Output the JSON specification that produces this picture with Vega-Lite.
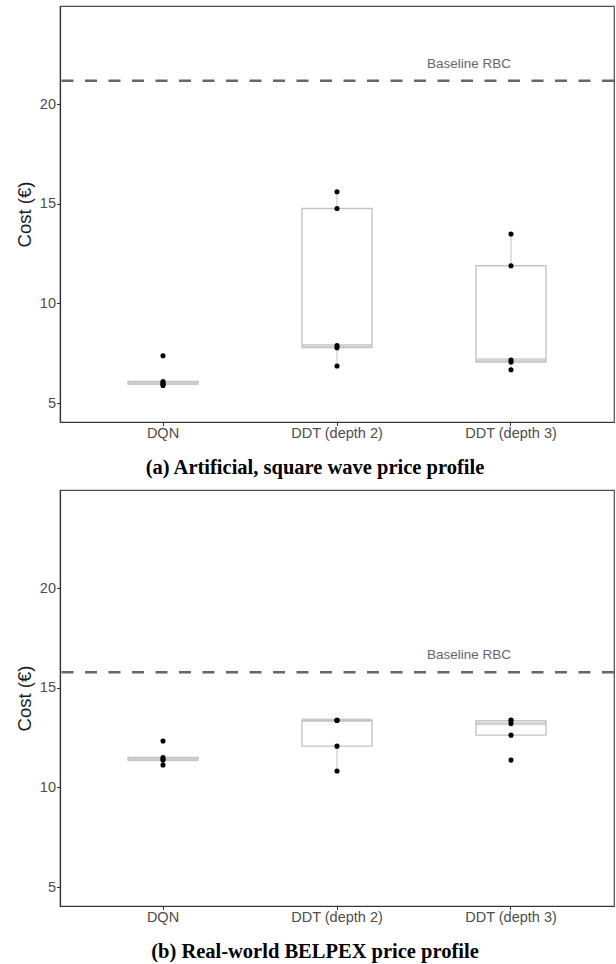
{
  "$schema": "https://vega.github.io/schema/vega-lite/v6.json",
  "padding": {"top": 5, "left": 14, "right": 0, "bottom": 0},
  "background": "white",
  "spacing": 9,
  "datasets": {
    "a": [
      {"method": "DQN", "cost": 7.37},
      {"method": "DQN", "cost": 6.08},
      {"method": "DQN", "cost": 6.0},
      {"method": "DQN", "cost": 5.95},
      {"method": "DQN", "cost": 5.88},
      {"method": "DDT (depth 2)", "cost": 15.6},
      {"method": "DDT (depth 2)", "cost": 14.76},
      {"method": "DDT (depth 2)", "cost": 7.88},
      {"method": "DDT (depth 2)", "cost": 7.78},
      {"method": "DDT (depth 2)", "cost": 6.86},
      {"method": "DDT (depth 3)", "cost": 13.48},
      {"method": "DDT (depth 3)", "cost": 11.89},
      {"method": "DDT (depth 3)", "cost": 7.16},
      {"method": "DDT (depth 3)", "cost": 7.06},
      {"method": "DDT (depth 3)", "cost": 6.67}
    ],
    "b": [
      {"method": "DQN", "cost": 12.33},
      {"method": "DQN", "cost": 11.5},
      {"method": "DQN", "cost": 11.4},
      {"method": "DQN", "cost": 11.37},
      {"method": "DQN", "cost": 11.12},
      {"method": "DDT (depth 2)", "cost": 13.37},
      {"method": "DDT (depth 2)", "cost": 13.37},
      {"method": "DDT (depth 2)", "cost": 13.37},
      {"method": "DDT (depth 2)", "cost": 12.07},
      {"method": "DDT (depth 2)", "cost": 10.82},
      {"method": "DDT (depth 3)", "cost": 13.38},
      {"method": "DDT (depth 3)", "cost": 13.35},
      {"method": "DDT (depth 3)", "cost": 13.2},
      {"method": "DDT (depth 3)", "cost": 12.62},
      {"method": "DDT (depth 3)", "cost": 11.37}
    ],
    "baseA": [{"method": "DDT (depth 3)", "cost": 21.17, "label": "Baseline RBC"}],
    "baseB": [{"method": "DDT (depth 3)", "cost": 15.78, "label": "Baseline RBC"}]
  },
  "config": {
    "font": "Liberation Sans",
    "view": {"stroke": "#4d4d4d", "strokeWidth": 1.2},
    "axis": {
      "grid": false,
      "domainColor": "#333333",
      "domainWidth": 1.2,
      "tickColor": "#333333",
      "tickSize": 3.5,
      "labelColor": "#4d4d4d",
      "labelFont": "Liberation Sans",
      "labelFontSize": 14.5,
      "titleFont": "Liberation Sans",
      "titleFontSize": 18.5,
      "titleFontWeight": "normal",
      "titleColor": "#1a1a1a"
    },
    "title": {"font": "Liberation Serif", "fontSize": 20.5, "fontWeight": "bold", "color": "#000000"}
  },
  "vconcat": [
    {
      "width": 554,
      "height": 416,
      "title": {"text": "(a) Artificial, square wave price profile", "orient": "bottom", "frame": "group", "anchor": "middle", "offset": 18, "dx": -22},
      "encoding": {
        "x": {"field": "method", "type": "nominal", "sort": ["DQN", "DDT (depth 2)", "DDT (depth 3)"],
              "scale": {"paddingInner": 0, "paddingOuter": 0.092},
              "axis": {"title": null, "labelAngle": 0, "labelPadding": 1}},
        "y": {"field": "cost", "type": "quantitative",
              "scale": {"domain": [4.05, 24.92], "nice": false, "zero": false},
              "axis": {"title": "Cost (€)", "values": [5, 10, 15, 20], "labelPadding": 1, "titlePadding": 5}}
      },
      "layer": [
        {
          "data": {"name": "a"},
          "mark": {"type": "boxplot", "extent": 1.5, "size": 70, "outliers": false, "ticks": false,
                   "box": {"color": "white", "stroke": "#c4c4c4", "strokeWidth": 1.4},
                   "median": {"color": "#c0c0c0", "thickness": 3.5},
                   "rule": {"color": "#c4c4c4", "strokeWidth": 1}}
        },
        {
          "data": {"name": "a"},
          "mark": {"type": "circle", "size": 26, "color": "black", "opacity": 1}
        },
        {
          "data": {"name": "baseA"},
          "mark": {"type": "rule", "strokeDash": [12, 11.5], "strokeWidth": 2.5, "color": "#666666"},
          "encoding": {"x": null}
        },
        {
          "data": {"name": "baseA"},
          "mark": {"type": "text", "dx": -42, "dy": -17, "fontSize": 13.5, "color": "#666666", "font": "Liberation Sans"},
          "encoding": {"text": {"field": "label"}}
        }
      ]
    },
    {
      "width": 554,
      "height": 416,
      "title": {"text": "(b) Real-world BELPEX price profile", "orient": "bottom", "frame": "group", "anchor": "middle", "offset": 18, "dx": -22},
      "encoding": {
        "x": {"field": "method", "type": "nominal", "sort": ["DQN", "DDT (depth 2)", "DDT (depth 3)"],
              "scale": {"paddingInner": 0, "paddingOuter": 0.092},
              "axis": {"title": null, "labelAngle": 0, "labelPadding": 1}},
        "y": {"field": "cost", "type": "quantitative",
              "scale": {"domain": [4.05, 24.92], "nice": false, "zero": false},
              "axis": {"title": "Cost (€)", "values": [5, 10, 15, 20], "labelPadding": 1, "titlePadding": 5}}
      },
      "layer": [
        {
          "data": {"name": "b"},
          "mark": {"type": "boxplot", "extent": 1.5, "size": 70, "outliers": false, "ticks": false,
                   "box": {"color": "white", "stroke": "#c4c4c4", "strokeWidth": 1.4},
                   "median": {"color": "#c0c0c0", "thickness": 3.5},
                   "rule": {"color": "#c4c4c4", "strokeWidth": 1}}
        },
        {
          "data": {"name": "b"},
          "mark": {"type": "circle", "size": 26, "color": "black", "opacity": 1}
        },
        {
          "data": {"name": "baseB"},
          "mark": {"type": "rule", "strokeDash": [12, 11.5], "strokeWidth": 2.5, "color": "#666666"},
          "encoding": {"x": null}
        },
        {
          "data": {"name": "baseB"},
          "mark": {"type": "text", "dx": -42, "dy": -17, "fontSize": 13.5, "color": "#666666", "font": "Liberation Sans"},
          "encoding": {"text": {"field": "label"}}
        }
      ]
    }
  ]
}
